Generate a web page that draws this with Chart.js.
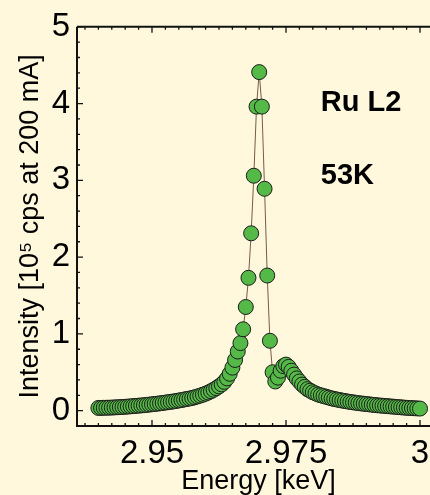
<!DOCTYPE html>
<html><head><meta charset="utf-8">
<script src="https://cdn.jsdelivr.net/npm/chart.js@4.4.1/dist/chart.umd.min.js"></script>
<style>
html,body{margin:0;padding:0;background:#FFF8DC;overflow:hidden;width:430px;height:495px}
#wrap{position:relative;width:440px;height:495px}
</style></head><body>
<div id="wrap"><canvas id="c" width="440" height="495"></canvas></div>
<script>
// Energy [keV]
const energy = [
2.9400,2.9405,2.9410,2.9415,2.9420,2.9425,2.9430,2.9435,2.9440,2.9445,
2.9450,2.9455,2.9460,2.9465,2.9470,2.9475,2.9480,2.9485,2.9490,2.9495,
2.9500,2.9505,2.9510,2.9515,2.9520,2.9525,2.9530,2.9535,2.9540,2.9545,
2.9550,2.9555,2.9560,2.9565,2.9570,2.9575,2.9580,2.9585,2.9590,2.9595,
2.9600,2.9605,2.9610,2.9615,2.9620,2.9625,2.9630,2.9635,2.9640,2.9645,
2.9650,2.9655,2.9660,2.9665,2.9670,2.9675,2.9680,2.9685,2.9690,2.9695,
2.9700,
2.9705,2.9710,2.9715,2.9720,2.9725,2.9730,2.9735,2.9740,2.9745,2.9750,
2.9755,2.9760,2.9765,2.9770,2.9775,2.9780,2.9785,2.9790,2.9795,2.9800,
2.9805,2.9810,2.9815,2.9820,2.9825,2.9830,2.9835,2.9840,2.9845,2.9850,
2.9855,2.9860,2.9865,2.9870,2.9875,2.9880,2.9885,2.9890,2.9895,2.9900,
2.9905,2.9910,2.9915,2.9920,2.9925,2.9930,2.9935,2.9940,2.9945,2.9950,
2.9955,2.9960,2.9965,2.9970,2.9975,2.9980,2.9985,2.9990,2.9995,3.0000
];
// Intensity [10^5 cps at 200 mA]
const intensity = [
0.035,0.036,0.037,0.038,0.039,0.040,0.042,0.044,0.046,0.048,
0.050,0.053,0.056,0.059,0.062,0.065,0.068,0.071,0.075,0.079,
0.083,0.087,0.091,0.095,0.100,0.105,0.110,0.115,0.120,0.126,
0.132,0.138,0.145,0.152,0.158,0.165,0.175,0.185,0.196,0.208,
0.221,0.236,0.253,0.272,0.293,0.316,0.342,0.375,0.420,0.480,
0.560,0.660,0.770,0.880,1.060,1.350,1.730,2.310,3.060,3.960,
4.410,
3.960,2.890,1.760,0.910,0.500,0.380,0.430,0.520,0.580,0.600,
0.570,0.520,0.470,0.420,0.380,0.340,0.310,0.280,0.260,0.240,
0.225,0.210,0.200,0.190,0.180,0.170,0.160,0.152,0.145,0.138,
0.131,0.125,0.119,0.113,0.108,0.103,0.098,0.094,0.090,0.086,
0.082,0.078,0.074,0.070,0.067,0.064,0.061,0.058,0.055,0.052,
0.049,0.046,0.043,0.040,0.037,0.035,0.033,0.031,0.029,0.027
];
const xTickValues = [2.95, 2.975, 3.0];
const xTickLabels = ['2.95', '2.975', '3'];
const yTickValues = [0, 1, 2, 3, 4, 5];
const yTickLabels = ['0', '1', '2', '3', '4', '5'];
const annotationTexts = ['Ru L2', '53K'];
const annotationX = [2.9815, 2.9815];
const annotationY = [3.90, 2.95];

const FONT = "'Liberation Sans', Arial, Helvetica, sans-serif";
const BG = '#FFF8DC';

const framePlugin = {
  id: 'frame',
  beforeDraw(chart) {
    const ctx = chart.ctx;
    ctx.save();
    ctx.fillStyle = BG;
    ctx.fillRect(0, 0, chart.width, chart.height);
    ctx.restore();
  },
  afterDraw(chart) {
    const ctx = chart.ctx;
    const a = chart.chartArea;
    const xs = chart.scales.x, ys = chart.scales.y;
    ctx.save();
    ctx.strokeStyle = '#111';
    ctx.lineWidth = 2;
    ctx.beginPath();
    ctx.moveTo(a.left, a.top); ctx.lineTo(a.right + 5, a.top);
    ctx.moveTo(a.left, a.top); ctx.lineTo(a.left, a.bottom);
    ctx.moveTo(a.left - 1, a.bottom); ctx.lineTo(a.right + 5, a.bottom);
    ctx.stroke();
    // ticks (inward)
    ctx.lineWidth = 1.3;
    ctx.beginPath();
    for (let k = -5; k <= 27; k++) {
      const v = 2.95 + k * 0.0025;
      const px = xs.getPixelForValue(v);
      if (px < a.left + 2 || px > a.right) continue;
      const major = (k % 10 === 0);
      const L = major ? 6 : 3;
      ctx.moveTo(px, a.bottom); ctx.lineTo(px, a.bottom - L);
      ctx.moveTo(px, a.top); ctx.lineTo(px, a.top + L);
    }
    for (let k = 0; k <= 25; k++) {
      const v = k * 0.2;
      const py = ys.getPixelForValue(v);
      const major = (k % 5 === 0);
      const L = major ? 6 : 3;
      ctx.moveTo(a.left, py); ctx.lineTo(a.left + L, py);
    }
    ctx.stroke();
    // annotations
    ctx.fillStyle = '#000';
    ctx.font = "bold 29px " + FONT;
    ctx.textAlign = 'left';
    ctx.textBaseline = 'alphabetic';
    for (let i = 0; i < annotationTexts.length; i++) {
      ctx.fillText(annotationTexts[i], xs.getPixelForValue(annotationX[i]), ys.getPixelForValue(annotationY[i]));
    }
    ctx.restore();
  }
};

const points = energy.map((e, i) => ({ x: e, y: intensity[i] }));

new Chart(document.getElementById('c'), {
  type: 'line',
  data: {
    datasets: [{
      data: points,
      showLine: true,
      borderColor: '#7a5a48',
      borderWidth: 1,
      tension: 0,
      pointRadius: 7.5,
      pointHoverRadius: 7.5,
      pointBackgroundColor: '#55B947',
      pointBorderColor: '#1c1c1c',
      pointBorderWidth: 1,
      clip: false
    }]
  },
  options: {
    responsive: false,
    animation: false,
    devicePixelRatio: 1,
    layout: { autoPadding: false, padding: { top: 22, left: 0, right: 0, bottom: 0 } },
    plugins: { legend: { display: false }, tooltip: { enabled: false } },
    scales: {
      x: {
        type: 'linear',
        min: 2.93601,
        max: 3.00373,
        afterBuildTicks: s => { s.ticks = xTickValues.map(v => ({ value: v })); },
        afterFit: s => { s.height = 69; },
        grid: { display: false, drawTicks: false },
        border: { display: false },
        ticks: {
          autoSkip: false, maxRotation: 0, padding: 8, color: '#000',
          font: { family: FONT, size: 33 },
          callback: (v, i) => xTickLabels[i]
        },
        title: {
          display: true, text: 'Energy [keV]', color: '#000',
          font: { family: FONT, size: 27, lineHeight: 1 },
          padding: 0
        }
      },
      y: {
        type: 'linear',
        min: -0.2,
        max: 5,
        afterBuildTicks: s => { s.ticks = yTickValues.map(v => ({ value: v })); },
        afterFit: s => { s.width = 77; },
        grid: { display: false, drawTicks: false },
        border: { display: false },
        ticks: {
          autoSkip: false, padding: 7, color: '#000',
          font: { family: FONT, size: 33 },
          callback: (v, i) => yTickLabels[i]
        },
        title: {
          display: true, text: 'Intensity [10\u2075 cps at 200 mA]', color: '#000',
          font: { family: FONT, size: 27, lineHeight: 1 },
          padding: { top: 17, bottom: 0 }
        }
      }
    }
  },
  plugins: [framePlugin]
});
</script>
</body></html>
